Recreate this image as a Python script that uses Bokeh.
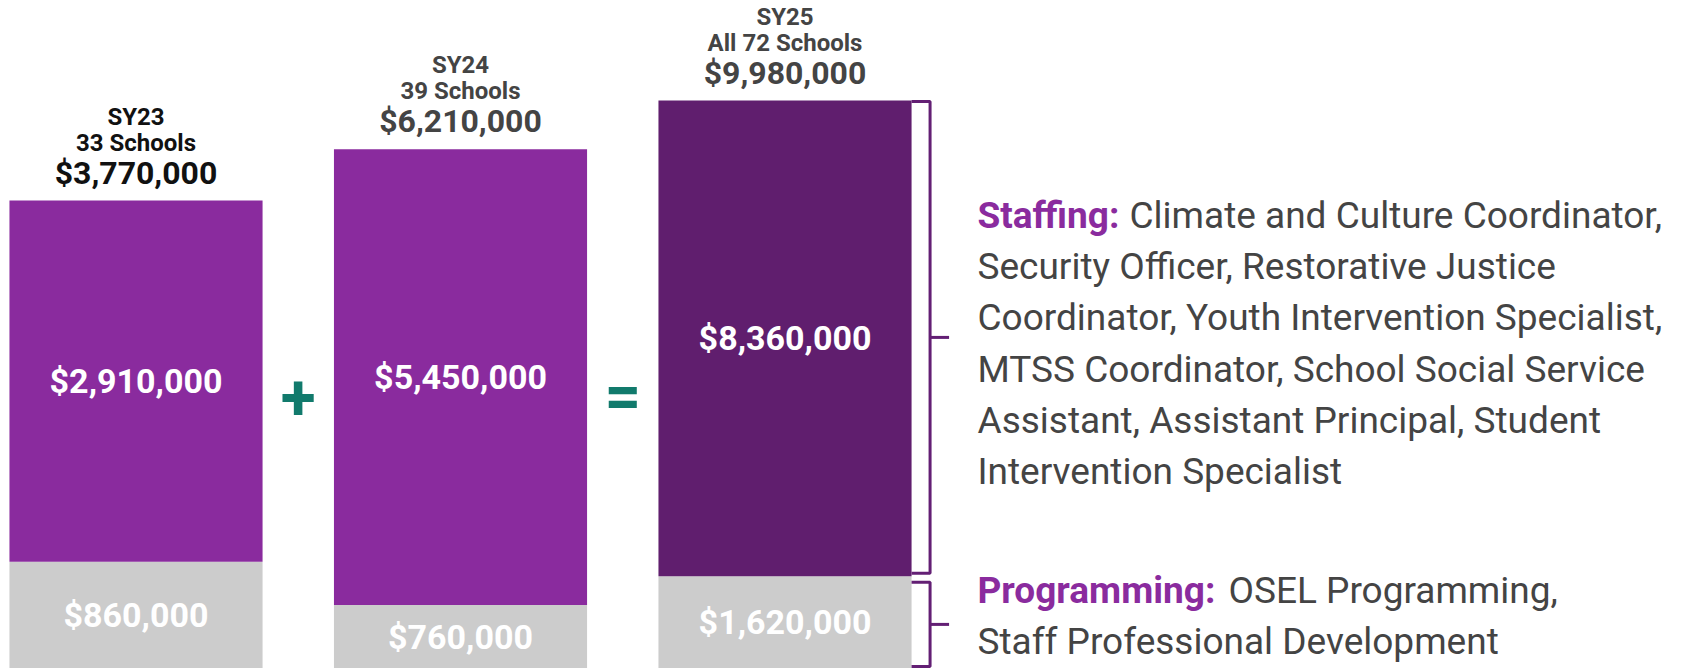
import math
from bokeh.plotting import figure
from bokeh.models import Range1d, Label, ColumnDataSource
from bokeh.core.properties import value
from bokeh.embed import file_html
from bokeh.resources import INLINE

# ---------------- data ----------------
years = ["SY23", "SY24", "SY25"]
schools = ["33 Schools", "39 Schools", "All 72 Schools"]
staffing = [2910000, 5450000, 8360000]
programming = [860000, 760000, 1620000]
totals = [3770000, 6210000, 9980000]
operators = ["+", "="]

staffing_head = "Staffing:"
staffing_lines = [
    "Climate and Culture Coordinator,",
    "Security Officer, Restorative Justice",
    "Coordinator, Youth Intervention Specialist,",
    "MTSS Coordinator, School Social Service",
    "Assistant, Assistant Principal, Student",
    "Intervention Specialist",
]
programming_head = "Programming:"
programming_lines = [
    "OSEL Programming,",
    "Staff Professional Development",
]

# ---------------- styles ----------------
PURPLE = "#8a2b9e"
DARK_PURPLE = "#601e6e"
GRAY = "#cccccc"
TEAL = "#117a6c"
TEXT = "#444444"
FONT = value("Roboto")

W, H = 1684, 668
X0, X1 = -0.4176, 4.7719
Y0, Y1 = 39576, 26.43e6          # log-scale range
PX_PER_DEC = H / (math.log10(Y1) - math.log10(Y0))
BAR_W = 0.78

p = figure(width=W, height=H, output_backend="svg", toolbar_location=None,
           x_range=Range1d(X0, X1), y_range=Range1d(Y0, Y1),
           y_axis_type="log", min_border=0)
p.xaxis.visible = False
p.yaxis.visible = False
p.grid.visible = False
p.outline_line_color = None
p.background_fill_color = "white"
p.border_fill_color = "white"

xs = list(range(len(years)))
# split point inside each bar: the programming share of the bar height
splits = [Y0 * (t / Y0) ** (g / t) for t, g in zip(totals, programming)]
bar_colors = [PURPLE, PURPLE, DARK_PURPLE]

src = ColumnDataSource(dict(
    x=xs, left=[x - BAR_W / 2 for x in xs], right=[x + BAR_W / 2 for x in xs],
    total=totals, split=splits, bottom=[Y0] * len(xs),
    color=bar_colors,
    staff_mid=[math.sqrt(s * t) for s, t in zip(splits, totals)],
    prog_mid=[math.sqrt(Y0 * s) for s in splits],
    staff_lbl=[f"${v:,.0f}" for v in staffing],
    prog_lbl=[f"${v:,.0f}" for v in programming],
    tot_lbl=[f"${v:,.0f}" for v in totals],
    year=years, schools=schools,
    head_color=["#111111", TEXT, TEXT],
))

p.quad(left="left", right="right", bottom="bottom", top="split", source=src,
       fill_color=GRAY, line_color=None)
p.quad(left="left", right="right", bottom="split", top="total", source=src,
       fill_color="color", line_color=None)

# inner labels
for ycol, tcol in (("staff_mid", "staff_lbl"), ("prog_mid", "prog_lbl")):
    p.text(x="x", y=ycol, text=tcol, source=src, text_align="center",
           text_baseline="middle", text_font=FONT, text_font_style="bold",
           text_font_size="34px", text_color="white")

# header labels
p.text(x="x", y="total", text="tot_lbl", source=src, y_offset=-28,
       text_align="center", text_baseline="middle", text_font=FONT,
       text_font_style="bold", text_font_size="32px", text_color="head_color")
p.text(x="x", y="total", text="schools", source=src, y_offset=-58,
       text_align="center", text_baseline="middle", text_font=FONT,
       text_font_style="bold", text_font_size="24px", text_color="head_color")
p.text(x="x", y="total", text="year", source=src, y_offset=-84,
       text_align="center", text_baseline="middle", text_font=FONT,
       text_font_style="bold", text_font_size="24px", text_color="head_color")

# operators between bars
for i, op in enumerate(operators):
    p.add_layout(Label(x=xs[i] + 0.5, y=H - 396, y_units="screen", text=op,
                       text_align="center", text_baseline="middle",
                       text_font="Roboto", text_font_style="bold",
                       text_font_size="64px", text_color=TEAL))

# brackets next to the last bar
last = len(xs) - 1
unit_px = W / (X1 - X0)
arm0 = xs[last] + BAR_W / 2
vx = arm0 + 18.5 / unit_px
tx = vx + 19 / unit_px
def shift(v, px):
    return v * 10 ** (px / PX_PER_DEC)
up_top = shift(totals[last], -1)
up_bot = shift(splits[last], 3)
lo_top = shift(splits[last], -6)
lo_bot = shift(Y0, 2)
up_mid = math.sqrt(up_top * up_bot)
lo_mid = math.sqrt(lo_top * lo_bot)
p.multi_line(
    xs=[[arm0, vx, vx, arm0], [vx, tx], [arm0, vx, vx, arm0], [vx, tx]],
    ys=[[up_top, up_top, up_bot, up_bot], [up_mid, up_mid],
        [lo_top, lo_top, lo_bot, lo_bot], [lo_mid, lo_mid]],
    line_color="#631f74", line_width=3)

# descriptive text at right
TX = 977
def add_block(head, head_w, lines, y_top, gap=51.2):
    p.add_layout(Label(x=TX, y=H - y_top, x_units="screen", y_units="screen",
                       text=head, text_align="left", text_baseline="middle",
                       text_font="Roboto", text_font_style="bold",
                       text_font_size="37px", text_color=PURPLE))
    for k, line in enumerate(lines):
        x = TX + head_w if k == 0 else TX
        p.add_layout(Label(x=x, y=H - (y_top + k * gap), x_units="screen",
                           y_units="screen", text=line, text_align="left",
                           text_baseline="middle", text_font="Roboto",
                           text_font_size="37px", text_color=TEXT))

add_block(staffing_head, 152, staffing_lines, 215)
add_block(programming_head, 251, programming_lines, 590)

open("out.html", "w").write(file_html(p, INLINE))
